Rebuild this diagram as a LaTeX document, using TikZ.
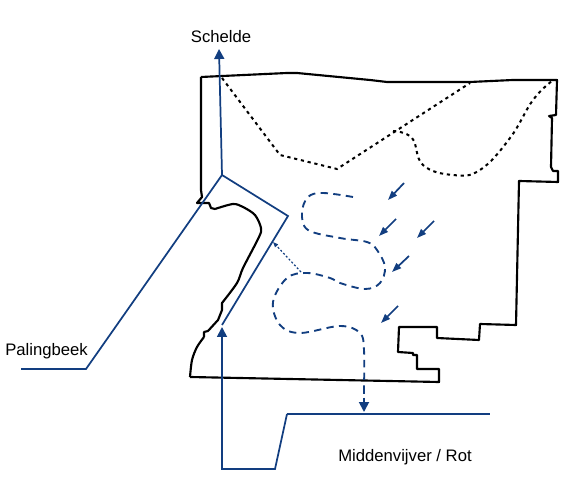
\documentclass[tikz,border=0pt]{standalone}
\usepackage{fontspec}
\setmainfont{Liberation Sans}
\usetikzlibrary{arrows.meta}
\definecolor{waterblue}{RGB}{18,62,128}
\tikzset{
  outline/.style={draw=black,line width=1.6pt,line join=round},
  dotline/.style={draw=black,line width=1.5pt,dash pattern=on 2.4pt off 2.8pt},
  water/.style={draw=waterblue,line width=1.3pt},
  seep/.style={draw=waterblue,line width=1.4pt,dash pattern=on 5.5pt off 4pt},
  bigtip/.style={-{Triangle[width=7.5pt,length=7.5pt]}},
  smalltip/.style={-{Triangle[width=5pt,length=7pt]}},
  lbl/.style={text=black,font=\fontsize{12.5pt}{14pt}\selectfont,inner sep=0pt}
}
\begin{document}
\begin{tikzpicture}[x=0.75pt,y=-0.75pt]
\useasboundingbox (0,0) rectangle (563,498);
% polder outline
\draw[outline] (201,77)--(287,73)--(297,73)--(370,80)--(387,82)--(470,82)--(513,80)--(557,80)--(556,115)--(549,116)--(552,118)--(551,167)--(553,171)--(558,171)--(558,182)--(519,181)--(516,325)--(480,324)--(479,340)--(437,338)--(437,327)--(399,327)--(398,352)--(413,353)--(413,355)--(417,355)--(417,369)--(439,369)--(439,382)--(190,377);
\draw[outline] (201,77)--(201,170)--(201,190)--(202,197)--(197,203)--(209,203)--(211,208)--(215,209)
  plot[smooth,tension=0.5] coordinates {(215,209)(233,204)(243,207)(255,215)(261,228)(259,237)(243,268)(237,283)(222,303)}
  --(222,310)--(218,320)--(208,331)--(204,332)--(204,337)
  plot[smooth,tension=0.5] coordinates {(204,337)(197,347)(192,360)(190,377)};
% dotted zones
\draw[dotline] (222,78)--(280,155)--(337,169)--(470,83);
\draw[dotline] plot[smooth,tension=0.7] coordinates {(393,131)(412,138)(423,165)(453,175)(480,170)(510,138)(533,100)(552,81)};
% water lines
\coordinate (split) at (222,175);
\coordinate (corner) at (288,216);
\coordinate (schelde) at (219,49);
\coordinate (inlet) at (222,327);
\draw[water,bigtip] (split)--(schelde);
\draw[water] (21,369)--(86,369)--(split)--(corner)--(222,325);
\draw[water,bigtip] (287,414)--(275,469)--(222,469)--(inlet);
\draw[water] (287,414)--(490,414);
% seepage path
\draw[seep] plot[smooth,tension=0.6] coordinates {(353,197)(323,193)(308,197)(302,213)(308,230)(340,238)(367,242)(377,250)(385,267)(380,283)(365,289)(340,283)(330,278)(307,273)(287,278)(273,302)(280,325)(300,333)(340,326)(360,333)(364,350)(364,387)};
\draw[seep,dash pattern=on 5pt off 3pt,bigtip] (364,387)--(364,412);
\draw[water,line width=0.9pt,dash pattern=on 1.5pt off 1.5pt,-{Triangle[width=3pt,length=4pt]}] (301,272)--(273,242);
% inflow arrows
\draw[water,smalltip] (404,183)--(388,200);
\draw[water,smalltip] (396,219)--(379,236);
\draw[water,smalltip] (434,221)--(417,238);
\draw[water,smalltip] (409,256)--(392,272);
\draw[water,smalltip] (398,306)--(381,323);
% labels
\node[lbl] (scheldelbl) at (221,37) {Schelde};
\node[lbl,anchor=west] (palinglbl) at (5,351) {Palingbeek};
\node[lbl] (middenlbl) at (405,457) {Middenvijver / Rot};
\end{tikzpicture}
\end{document}
